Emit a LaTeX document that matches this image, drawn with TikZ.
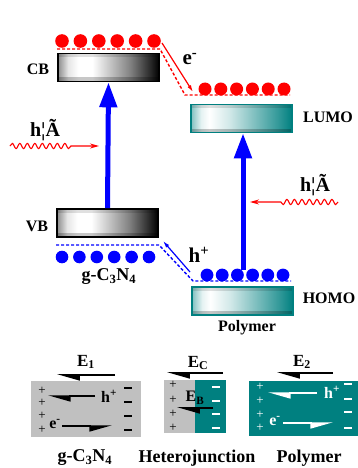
\documentclass[tikz,border=0pt]{standalone}
\usepackage{fontspec}
\setmainfont{Liberation Serif}
\usetikzlibrary{arrows.meta,decorations.pathmorphing}
\definecolor{tealc}{HTML}{008080}
\definecolor{grayc}{HTML}{C0C0C0}
\colorlet{gA}{black!45}
\colorlet{gB}{black!10}
\colorlet{gC}{black!50}
\colorlet{gD}{black!85}
\colorlet{tA}{tealc!50}
\colorlet{tB}{tealc!10}
\colorlet{tC}{tealc!18}
\colorlet{tD}{tealc!80}
\pgfdeclarehorizontalshading{cbshade}{100bp}{color(0bp)=(gA); color(25bp)=(gA); color(30bp)=(gB); color(35bp)=(white); color(42bp)=(white); color(61bp)=(gC); color(71bp)=(gD); color(75bp)=(black); color(100bp)=(black)}
\pgfdeclarehorizontalshading{tlshade}{100bp}{color(0bp)=(tA); color(25bp)=(tA); color(30bp)=(tB); color(34bp)=(white); color(44bp)=(tC); color(68bp)=(tD); color(75bp)=(tealc); color(100bp)=(tealc)}
\newcommand{\supm}{\textsuperscript{-}}
\newcommand{\supp}{\textsuperscript{+}}
\tikzset{
  lbl/.style={font=\bfseries\fontsize{15}{17}\selectfont, inner sep=0pt},
  biglbl/.style={font=\bfseries\fontsize{21}{23}\selectfont, inner sep=0pt},
  midlbl/.style={font=\bfseries\fontsize{17}{19}\selectfont, inner sep=0pt},
  pm/.style={font=\fontsize{13}{13}\selectfont, inner sep=0pt},
  bevel/.style={path picture={
     \fill[black, opacity=0.12] (path picture bounding box.north west) rectangle ([yshift=-4pt]path picture bounding box.north east);
     \fill[black, opacity=0.22] (path picture bounding box.south west) rectangle ([yshift=4pt]path picture bounding box.south east);}},
  gbox/.style={draw=black, line width=1.6pt, minimum width=101pt, minimum height=28pt, inner sep=0pt, shade, shading=cbshade, bevel},
  tbox/.style={draw=tealc, line width=1.6pt, minimum width=101pt, minimum height=28pt, inner sep=0pt, shade, shading=tlshade, bevel},
  bigarrow/.style={blue, line width=5pt, -{Triangle[length=25pt,width=17pt]}},
  thinred/.style={red, line width=1.2pt, -{Latex[length=7pt,width=4pt]}},
  thinblue/.style={blue, line width=1.2pt, -{Latex[length=7pt,width=4pt]}},
  reddash/.style={red, line width=1.4pt, dash pattern=on 3pt off 2pt},
  bluedash/.style={blue, line width=1.4pt, dash pattern=on 3pt off 2pt},
  wave/.style={red, line width=1.1pt, decorate, decoration={snake, amplitude=2.6pt, segment length=7.5pt, post length=#1}},
  harpL/.style={line width=1.6pt, -{Triangle[harpoon,length=20pt,width=11pt]}},
  harpR/.style={line width=1.6pt, -{Triangle[harpoon,swap,length=20pt,width=11pt]}},
  panel/.style={inner sep=0pt, draw=none}
}
\begin{document}
\begin{tikzpicture}[x=1pt, y=-1pt]
\useasboundingbox (0,0) rectangle (358,468);

% ---------- energy boxes ----------
\node[gbox] (CB) at (108.5,67.5) {};
\node[gbox] (VB) at (107.5,223) {};
\node[tbox] (LUMO) at (241.5,118.5) {};
\node[tbox] (HOMO) at (242.5,301) {};

\node[lbl, font=\bfseries\fontsize{16}{18}\selectfont] (cbl) at (38,69) {CB};
\node[lbl, font=\bfseries\fontsize{16}{18}\selectfont] (vbl) at (37,226) {VB};
\node[lbl, font=\bfseries\fontsize{16}{18}\selectfont] (lumol) at (328,117) {LUMO};
\node[lbl, font=\bfseries\fontsize{16}{18}\selectfont] (homol) at (329,298) {HOMO};
\node[midlbl, font=\bfseries\fontsize{18}{20}\selectfont] (gcn) at (109,277) {g-C\textsubscript{3}N\textsubscript{4}};
\node[lbl, font=\bfseries\fontsize{16}{18}\selectfont] (poly) at (247,328) {Polymer};

% ---------- electrons / holes ----------
\foreach \i in {0,...,5} \fill[red] (62+18.4*\i,41) circle[radius=6.8pt];
\foreach \i in {0,...,5} {
  \fill[red] (205+15.8*\i,89) circle[radius=6.5pt];
  \fill[red] (202.5+15.8*\i,92) rectangle (207.5+15.8*\i,95);
}
\foreach \i in {0,...,5} \fill[blue] (62+17.4*\i,257) circle[radius=6.3pt];
\foreach \i in {0,...,5} {
  \fill[blue] (207+15.2*\i,275) circle[radius=6.4pt];
  \fill[blue] (204+15.2*\i,278) rectangle (210+15.2*\i,281);
}

% ---------- dashed level lines ----------
\coordinate (r1) at (57,49);
\coordinate (r2) at (160,49);
\coordinate (r3) at (185,95);
\coordinate (r4) at (290,95);
\draw[reddash] (r1) -- (r2) -- (r3) -- (r4);
\coordinate (b1) at (56,245);
\coordinate (b2) at (159,245);
\coordinate (b3) at (193,281);
\coordinate (b4) at (291,281);
\draw[bluedash] (b1) -- (b2) -- (b3) -- (b4);

% ---------- transfer arrows ----------
\coordinate (es) at (162,43);
\coordinate (ee) at (193,92);
\draw[thinred] (es) -- (ee);
\node[biglbl] (elab) at (190,59) {e\supm};
\coordinate (hs) at (190,272);
\coordinate (he) at (163,241);
\draw[thinblue] (hs) -- (he);
\node[biglbl] (hlab) at (199,255) {h\supp};

% ---------- excitation arrows ----------
\draw[bigarrow] (VB.north) -- (CB.south);
\coordinate (pst) at (243,270);
\draw[bigarrow] (pst) -- (pst |- LUMO.south);

% ---------- light ----------
\coordinate (w1s) at (10,146);
\coordinate (w1e) at (99,146);
\draw[wave=26pt, -{Stealth[length=9pt,width=5pt]}] (w1s) -- (w1e);
\node[biglbl, font=\bfseries\fontsize{20}{22}\selectfont] (hv1) at (45,130) {h¦Ã};
\coordinate (w2s) at (338,202);
\coordinate (w2e) at (250,202);
\draw[wave=30pt, -{Stealth[length=9pt,width=5pt]}] (w2s) -- (w2e);
\node[biglbl, font=\bfseries\fontsize{20}{22}\selectfont] (hv2) at (315,185) {h¦Ã};

% ---------- bottom panels ----------
% g-C3N4
\node[panel, fill=grayc, minimum width=110pt, minimum height=56pt] (P1) at (86,409) {};
\node[midlbl] (e1l) at (86,362) {E\textsubscript{1}};
\coordinate (e1s) at (115,375); \coordinate (e1e) at (57,375);
\draw[harpL] (e1s) -- (e1e);
\foreach \y in {391,403,416,430} \node[pm] at (42,\y) {+};
\foreach \y in {388,402,416,430} \draw[line width=2pt] (124,\y) -- (132,\y);
\coordinate (h1s) at (95,396); \coordinate (h1e) at (48,396);
\draw[harpL, line width=1.4pt] (h1s) -- (h1e);
\node[lbl, font=\bfseries\fontsize{16}{18}\selectfont] (h1l) at (109,396) {h\supp};
\node[lbl, font=\bfseries\fontsize{16}{18}\selectfont] (e1lab) at (55,424) {e\supm};
\coordinate (x1s) at (62,426); \coordinate (x1e) at (112,426);
\draw[harpR, line width=1.4pt] (x1s) -- (x1e);

% heterojunction
\node[panel, fill=grayc, minimum width=31pt, minimum height=53pt] (P2a) at (179.5,406.5) {};
\node[panel, fill=tealc, minimum width=31pt, minimum height=53pt] (P2b) at (210.5,406.5) {};
\node[midlbl] (ecl) at (198,363) {E\textsubscript{C}};
\coordinate (ecs) at (223,373); \coordinate (ece) at (167,373);
\draw[harpL] (ecs) -- (ece);
\foreach \y in {385,400,414,428} \node[pm] at (173,\y) {+};
\foreach \y in {387,401,414,428} \draw[white, line width=2pt] (212,\y) -- (220,\y);
\node[midlbl, font=\bfseries\fontsize{16}{18}\selectfont] (ebl) at (195,398) {E\textsubscript{B}};
\coordinate (ebs) at (213,408); \coordinate (ebe) at (177,408);
\draw[harpL] (ebs) -- (ebe);

% polymer
\node[panel, fill=tealc, minimum width=109pt, minimum height=55pt] (P3) at (303.5,408.5) {};
\node[midlbl] (e2l) at (302,362) {E\textsubscript{2}};
\coordinate (e2s) at (333,373); \coordinate (e2e) at (277,373);
\draw[harpL] (e2s) -- (e2e);
\foreach \y in {387,401,415,428} \node[pm, white] at (260,\y) {+};
\foreach \y in {384,399,412,428} \draw[white, line width=2pt] (344,\y) -- (352,\y);
\coordinate (h3s) at (317,393); \coordinate (h3e) at (268,393);
\draw[harpL, white, line width=1.4pt] (h3s) -- (h3e);
\node[lbl, white, font=\bfseries\fontsize{16}{18}\selectfont] (h3l) at (332,392) {h\supp};
\node[lbl, white, font=\bfseries\fontsize{16}{18}\selectfont] (e3lab) at (275,421) {e\supm};
\coordinate (x3s) at (283,423); \coordinate (x3e) at (333,423);
\draw[harpR, white, line width=1.4pt] (x3s) -- (x3e);

% captions
\node[midlbl, font=\bfseries\fontsize{18}{20}\selectfont] (c1) at (85,458) {g-C\textsubscript{3}N\textsubscript{4}};
\node[midlbl, font=\bfseries\fontsize{18}{20}\selectfont] (c2) at (197,458) {Heterojunction};
\node[midlbl, font=\bfseries\fontsize{18}{20}\selectfont] (c3) at (309,458) {Polymer};
\end{tikzpicture}
\end{document}
